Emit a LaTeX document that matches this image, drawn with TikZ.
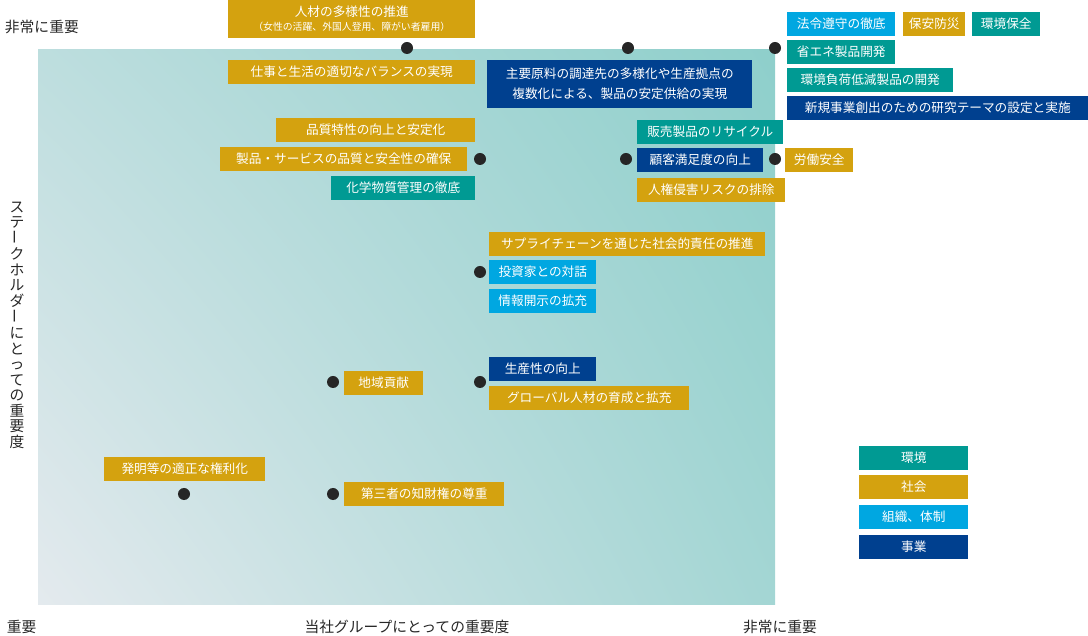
\documentclass[tikz,border=0pt]{standalone}
\usepackage{fontspec}
\setmainfont{Noto Sans CJK JP}
\usetikzlibrary{positioning,shadings}
\definecolor{kankyo}{HTML}{009A93}
\definecolor{shakai}{HTML}{D4A20F}
\definecolor{soshiki}{HTML}{00A7E1}
\definecolor{jigyo}{HTML}{00408F}
\definecolor{lowc}{HTML}{E4EAEE}
\definecolor{highc}{HTML}{8ECFCB}
\tikzset{
  box/.style={anchor=west, text=white, font=\fontsize{9}{11}\selectfont, minimum height=0.6cm, inner xsep=2pt, inner ysep=1pt, align=center},
  w/.style={minimum width=#1*0.025cm},
  env/.style={box, fill=kankyo},
  soc/.style={box, fill=shakai},
  org/.style={box, fill=soshiki},
  biz/.style={box, fill=jigyo},
  dot/.style={circle, fill=black!85, inner sep=0pt, minimum size=0.3cm},
  axis/.style={font=\fontsize{10.5}{12}\selectfont, text=black!85}
}
\begin{document}
\begin{tikzpicture}[x=0.025cm, y=-0.025cm]
  \useasboundingbox (0,0) rectangle (1088,636);
  % plot area
  \shade[lower left=lowc, upper left=highc!45!lowc, upper right=highc, lower right=highc!75!lowc] (38,50) rectangle (775,605);

  % axis labels
  \node[axis, anchor=west] (hiY) at (0,27) {非常に重要};
  \node[axis, anchor=west] (lowX) at (2,627) {重要};
  \node[axis] (xlab) at (407,627) {当社グループにとっての重要度};
  \node[axis] (hiX) at (780,627) {非常に重要};
  \node[axis, align=center, inner sep=0pt, font=\fontsize{10.5}{11}\selectfont] (ylab) at (17,325)
    {ス\\テ\\\rotatebox{90}{ー}\\ク\\ホ\\ル\\ダ\\\rotatebox{90}{ー}\\に\\と\\っ\\て\\の\\重\\要\\度};

  % top row
  \node[soc, w=247, minimum height=0.95cm, font=\fontsize{9}{10}\selectfont] (diverse) at (228,19)
    {人材の多様性の推進\\{\fontsize{7}{8}\selectfont（女性の活躍、外国人登用、障がい者雇用）}};
  \node[dot] (d1) at (407,48) {};
  \node[soc, w=247] (balance) at (228,72) {仕事と生活の適切なバランスの実現};
  \node[dot] (d2) at (628,48) {};
  \node[biz, w=265, minimum height=1.2cm, font=\fontsize{9}{14}\selectfont] (supply) at (487,84)
    {主要原料の調達先の多様化や生産拠点の\\複数化による、製品の安定供給の実現};
  \node[dot] (d3) at (775,48) {};
  \node[org, w=108] (law) at (787,24) {法令遵守の徹底};
  \node[soc, w=62] (safety) at (903,24) {保安防災};
  \node[env, w=68] (envcons) at (972,24) {環境保全};
  \node[env, w=108] (energy) at (787,52) {省エネ製品開発};
  \node[env, w=166] (lowload) at (787,80) {環境負荷低減製品の開発};
  \node[biz, w=301] (newbiz) at (787,108) {新規事業創出のための研究テーマの設定と実施};

  % second row
  \node[soc, w=199] (quality) at (276,130) {品質特性の向上と安定化};
  \node[soc, w=247] (prodsafe) at (220,159) {製品・サービスの品質と安全性の確保};
  \node[dot] (d4) at (480,159) {};
  \node[env, w=144] (chem) at (331,188) {化学物質管理の徹底};
  \node[env, w=146] (recycle) at (637,132) {販売製品のリサイクル};
  \node[biz, w=126] (cs) at (637,160) {顧客満足度の向上};
  \node[dot] (d5) at (626,159) {};
  \node[dot] (d6) at (775,159) {};
  \node[soc, w=68] (labor) at (785,160) {労働安全};
  \node[soc, w=148] (rights) at (637,190) {人権侵害リスクの排除};

  % middle
  \node[soc, w=276] (chain) at (489,244) {サプライチェーンを通じた社会的責任の推進};
  \node[org, w=107] (investor) at (489,272) {投資家との対話};
  \node[dot] (d7) at (480,272) {};
  \node[org, w=107] (disclose) at (489,301) {情報開示の拡充};

  \node[dot] (d8) at (333,382) {};
  \node[soc, w=79] (region) at (344,383) {地域貢献};
  \node[dot] (d9) at (480,382) {};
  \node[biz, w=107] (product) at (489,369) {生産性の向上};
  \node[soc, w=200] (global) at (489,398) {グローバル人材の育成と拡充};

  % bottom
  \node[soc, w=161] (patent) at (104,469) {発明等の適正な権利化};
  \node[dot] (d10) at (184,494) {};
  \node[dot] (d11) at (333,494) {};
  \node[soc, w=160] (ip) at (344,494) {第三者の知財権の尊重};

  % legend
  \node[env, w=109] (lg1) at (859,458) {環境};
  \node[soc, w=109] (lg2) at (859,487) {社会};
  \node[org, w=109] (lg3) at (859,517) {組織、体制};
  \node[biz, w=109] (lg4) at (859,547) {事業};
\end{tikzpicture}
\end{document}
